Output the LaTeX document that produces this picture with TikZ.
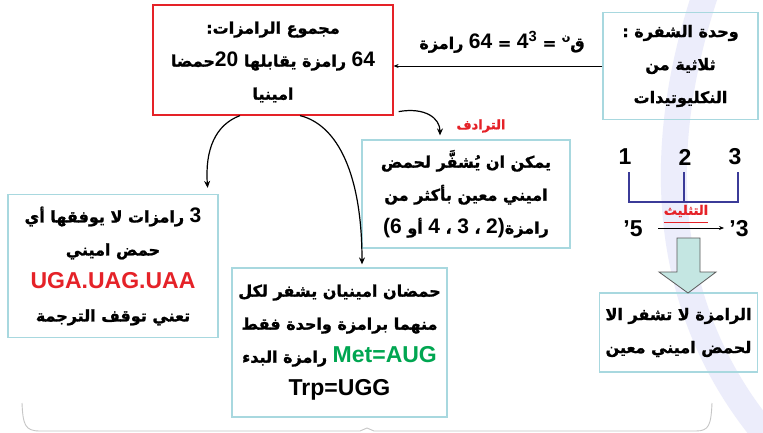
\documentclass[tikz,border=0pt]{standalone}
\usepackage{fontspec}
\setmainfont{Liberation Sans}
\newfontfamily\arabicfont[Script=Arabic,BoldFeatures={FakeBold=1.3}]{DejaVu Sans}
\newfontfamily\lat{Liberation Sans}
\TeXXeTstate=1
\usetikzlibrary{arrows.meta}
\definecolor{boxblue}{HTML}{A8D8DF}
\definecolor{redb}{HTML}{E52228}
\definecolor{codgreen}{HTML}{00A651}
\definecolor{brk}{HTML}{3B3B98}
\definecolor{arrfill}{HTML}{C4E6E2}
\definecolor{wmark}{RGB}{236,237,251}
\newcommand\arl[1]{\beginR #1\endR}
\newcommand\D[1]{\beginL{\lat\fontsize{21}{33}\selectfont #1}\endL}
\begin{document}
\begin{tikzpicture}[x=1pt,y=-1pt,
  box/.style={draw=boxblue,line width=1.2pt,inner sep=0pt,align=center,
    font=\arabicfont\bfseries\fontsize{16}{33}\selectfont},
  curve/.style={line width=1.2pt,-{Stealth[length=7pt,width=6pt]}},
  lbl/.style={inner sep=0pt,font=\arabicfont\bfseries\fontsize{16}{33}\selectfont},
  redlbl/.style={inner sep=0pt,text=redb,font=\arabicfont\bfseries\fontsize{13}{16}\selectfont},
  num/.style={inner sep=0pt,font=\lat\bfseries\fontsize{23}{26}\selectfont},
]
\useasboundingbox (0,0) rectangle (763,433);
\fill[white] (0,0) rectangle (763,433);
% faint background watermark
\draw[line width=26pt,wmark] (705,-5) .. controls (660,130) and (650,300) .. (770,440);

% boxes
\node[box,draw=redb,minimum width=240pt,minimum height=110pt] (redbox) at (273,60)
  {\rule{0pt}{16pt}\arl{مجموع الرامزات:}\\ \arl{\D{64} رامزة يقابلها \D{20}حمضا}\\ \arl{امينيا}};
\node[box,minimum width=155pt,minimum height=107pt] (unit) at (680.5,66)
  {\arl{وحدة الشفرة :}\\ \arl{ثلاثية من}\\ \arl{النكليوتيدات}};
\node[box,minimum width=208pt,minimum height=108pt] (syn) at (466,194)
  {\arl{يمكن ان يُشفَّر لحمض}\\ \arl{اميني معين بأكثر من}\\
   \arl{رامزة\D{)}\D{2} ، \D{3} ، \D{4} أو \D{6}\D{(}}};
\node[box,minimum width=210pt,minimum height=143pt] (stop) at (113,266)
  {\arl{\D{3} رامزات لا يوفقها أي}\\ \arl{حمض اميني}\\
   {\lat\fontsize{23}{33}\selectfont\color{redb}UGA.UAG.UAA}\\ \arl{تعني توقف الترجمة}};
\node[box,minimum width=215pt,minimum height=149pt] (two) at (339.5,342.5)
  {\arl{حمضان امينيان يشفر لكل}\\ \arl{منهما برامزة واحدة فقط}\\
   \arl{\D{\fontsize{23}{33}\selectfont\color{codgreen}Met=AUG} رامزة البدء}\\
   {\lat\fontsize{23}{33}\selectfont Trp=UGG}};
\node[box,minimum width=158pt,minimum height=79pt] (one) at (678.5,332.5)
  {\arl{الرامزة لا تشفر الا}\\ \arl{لحمض اميني معين}};

% formula and labels
\node[lbl] (formula) at (502,42)
  {\arl{ق\raisebox{1ex}{\fontsize{10}{12}\selectfont ن} = \D{4\textsuperscript{3}} = \D{64} رامزة}};
\node[redlbl] (taraduf) at (481,126) {\arl{الترادف}};

% connectors
\draw[line width=0.8pt,-{Stealth[length=5pt,width=4pt]}] (unit.west) -- (unit.west -| redbox.east);
\draw[curve] ([xshift=-33pt]redbox.south) .. controls (215,125) and (205,150) .. ([xshift=-11pt,yshift=6pt]stop.north east);
\draw[curve] ([xshift=27pt]redbox.south) .. controls (338,125) and (362,175) .. ([xshift=22.5pt,yshift=3pt]two.north);
\draw[curve] ([xshift=5pt,yshift=4pt]redbox.south east) .. controls (425,107) and (440,118) .. ([xshift=-26pt,yshift=4pt]syn.north);

% triplet
\node[num] (n1) at (625,157) {1};
\node[num] (n2) at (685,157) {2};
\node[num] (n3) at (735,157) {3};
\draw[brk,line width=1.8pt] (629,172) -- (629,202) -- (738,202) -- (738,172);
\draw[brk,line width=1.8pt] (684,172) -- (684,202);
\node[num] (p5) at (633,229) {’5};
\node[num] (p3) at (739,229) {’3};
\coordinate (ta) at (658,228);
\coordinate (tb) at (724,228);
\draw[line width=0.7pt,-{Stealth[length=5pt,width=4pt]}] (ta) -- (tb);
\node[redlbl] (tathlith) at (686,211) {\arl{التثليث}};
\draw[redb,line width=0.8pt] (664,222) -- (708,222);

% hollow arrow
\draw[fill=arrfill,draw=gray!70!black,line width=0.8pt]
  (677,238) -- (700,238) -- (700,272) -- (716,272) -- (688,293) -- (659,272) -- (677,272) -- cycle;

% bottom bracket
\draw[gray!45,line width=0.9pt] (22,403) .. controls (23,425) and (25,431) .. (40,431)
  -- (360,431) -- (367,428) -- (374,431) -- (696,431) .. controls (709,431) and (711,425) .. (712,403);
\end{tikzpicture}
\end{document}
